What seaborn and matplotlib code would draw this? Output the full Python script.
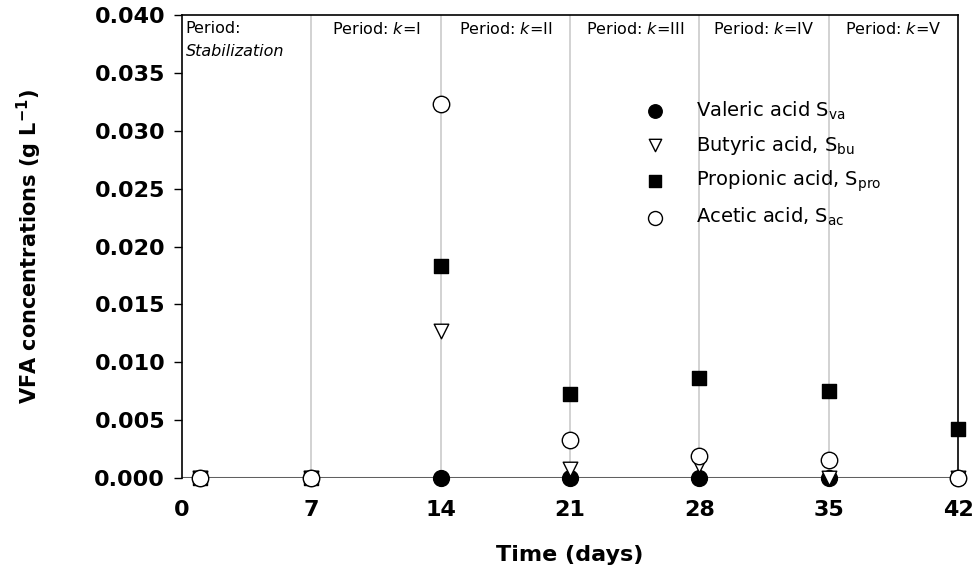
import matplotlib
matplotlib.use("Agg")
import matplotlib.pyplot as plt
import seaborn as sns
import pandas as pd

sns.set_theme(style="white")
plt.rcParams['font.family'] = ['DejaVu Sans']
plt.rcParams['text.color'] = 'black'
plt.rcParams['axes.labelcolor'] = 'black'
plt.rcParams['xtick.color'] = 'black'
plt.rcParams['ytick.color'] = 'black'
plt.rcParams['mathtext.fontset'] = 'custom'
plt.rcParams['mathtext.rm'] = 'DejaVu Sans'
plt.rcParams['mathtext.it'] = 'DejaVu Sans:italic'
plt.rcParams['mathtext.bf'] = 'DejaVu Sans:bold'

days = [1, 7, 14, 21, 28, 35, 42]
valeric = [0.0, 0.0, 0.0, 0.0, 0.0, 0.0, 0.0]
butyric = [0.0, 0.0, 0.0127, 0.0008, 0.0011, 0.0, 0.0]
propionic = [0.0, 0.0, 0.0183, 0.0073, 0.0086, 0.0075, 0.0042]
acetic = [0.0, 0.0, 0.0323, 0.0033, 0.0019, 0.0016, 0.0]

series_labels = ["Valeric acid S$_{\\mathregular{va}}$",
                 "Butyric acid, S$_{\\mathregular{bu}}$",
                 "Propionic acid, S$_{\\mathregular{pro}}$",
                 "Acetic acid, S$_{\\mathregular{ac}}$"]
period_bounds = [0, 7, 14, 21, 28, 35, 42]
period_labels = ["Stabilization", "I", "II", "III", "IV", "V"]
xticks = [0, 7, 14, 21, 28, 35, 42]
yticks = [0.000, 0.005, 0.010, 0.015, 0.020, 0.025, 0.030, 0.035, 0.040]

fig = plt.figure(figsize=(9.78, 5.79), dpi=100)
ax = fig.add_axes([0.186, 0.1744, 0.7936, 0.7996])

# vertical period lines
for b in period_bounds[1:-1]:
    ax.axvline(b, color="#cfcfcf", lw=1.3, zorder=0)
ax.axhline(0, color="#606060", lw=2.2, zorder=1)

styles = [
    dict(marker="o", color="black", edgecolor="black", s=130),
    dict(marker="v", color="white", edgecolor="black", s=110),
    dict(marker="s", color="black", edgecolor="black", s=90),
    dict(marker="o", color="white", edgecolor="black", s=140),
]
for vals, lab, st in zip([valeric, butyric, propionic, acetic], series_labels, styles):
    df = pd.DataFrame({"day": days, "conc": vals})
    sns.scatterplot(data=df, x="day", y="conc", ax=ax, label=lab,
                    linewidth=1.0, clip_on=False, zorder=3, **st)

ax.set_xlim(0, 42)
ax.set_ylim(0, 0.040)
ax.set_xticks(xticks)
ax.set_yticks(yticks)
ax.set_xticklabels([str(t) for t in xticks], fontsize=16, fontweight="bold")
ax.set_yticklabels([f"{t:.3f}" for t in yticks], fontsize=16, fontweight="bold")
ax.tick_params(axis="y", direction="out", length=6, width=1, color="black", pad=6, left=True)
ax.tick_params(axis="x", length=0, pad=16)
ax.set_xlabel("Time (days)", fontsize=16, fontweight="bold", labelpad=18)
ax.set_ylabel("VFA concentrations (g L$^{\\mathbf{-1}}$)", fontsize=15, fontweight="bold", labelpad=36)

for side in ["left", "right", "top"]:
    ax.spines[side].set_visible(True)
    ax.spines[side].set_color("black")
    ax.spines[side].set_linewidth(1.2)
ax.spines["bottom"].set_visible(False)

# period labels
for i, lab in enumerate(period_labels):
    if i == 0:
        ax.text(0.2, 0.0395, "Period:", fontsize=11.5, ha="left", va="top")
        ax.text(0.2, 0.0375, "Stabilization", fontsize=11.5, ha="left", va="top", style="italic")
    else:
        xc = (period_bounds[i] + period_bounds[i + 1]) / 2
        ax.text(xc, 0.0395, "Period: $\\mathit{k}$=" + lab, fontsize=11.5, ha="center", va="top")

leg = ax.legend(loc="upper left", bbox_to_anchor=(0.575, 0.835), frameon=False,
                fontsize=14, labelspacing=0.62, handletextpad=1.1, borderaxespad=0,
                markerscale=0.85)

fig.savefig("out.png", dpi=100)
